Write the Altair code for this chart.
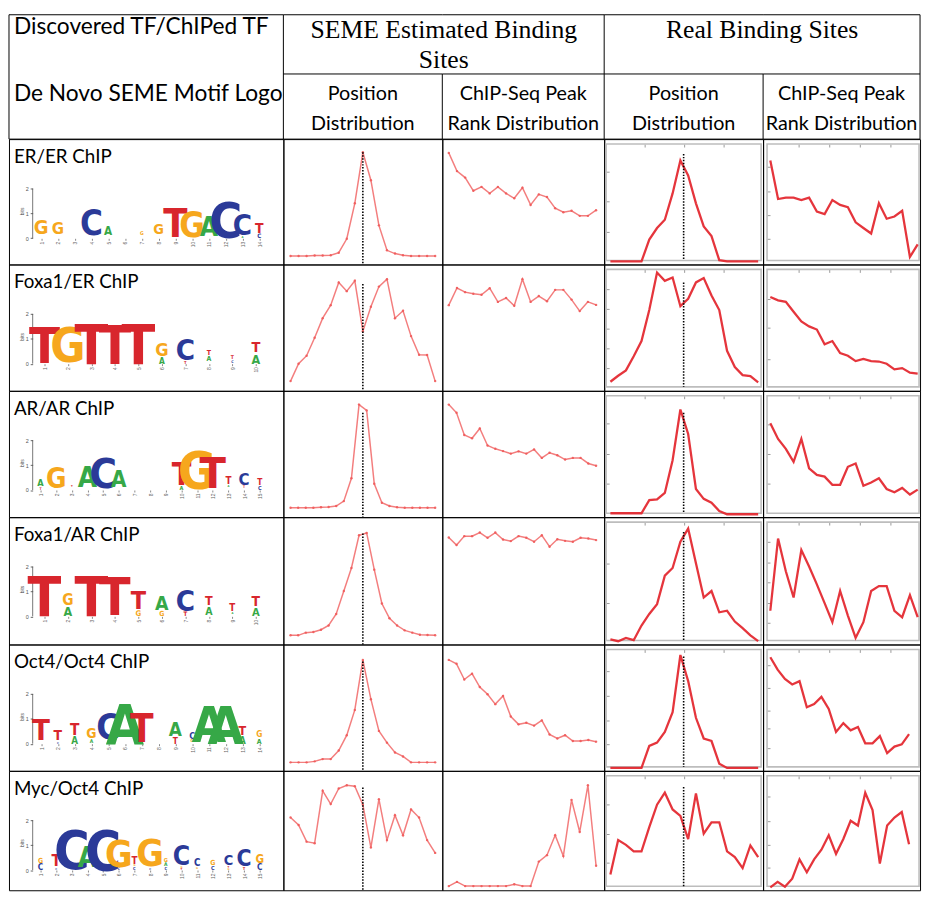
import altair as alt
import pandas as pd

# ---------------- texts ----------------
ROW_LABELS = ["ER/ER ChIP", "Foxa1/ER ChIP", "AR/AR ChIP",
              "Foxa1/AR ChIP", "Oct4/Oct4 ChIP", "Myc/Oct4 ChIP"]
HEAD_LEFT = ["Discovered TF/ChIPed TF", "De Novo SEME Motif Logo"]
HEAD_SEME = ["SEME Estimated Binding", "Sites"]
HEAD_REAL = ["Real Binding Sites"]
SUB_POS = ["Position", "Distribution"]
SUB_RANK = ["ChIP-Seq Peak", "Rank Distribution"]

LETTERS = ["A", "C", "G", "T"]
LETTER_COLORS = ["#36a847", "#2b3a98", "#f6a71d", "#d8262d"]

# ---------------- motif logos (bits, stacked bottom -> top) ----------------
LOGO_ER = [
    [("T", .08), ("A", .06), ("C", .05), ("G", .72)],
    [("A", .05), ("C", .05), ("T", .06), ("G", .60)],
    [("C", .04), ("G", .05), ("T", .07)],
    [("G", .05), ("T", .07), ("C", 1.25)],
    [("G", .08), ("T", .07), ("A", .42)],
    [("G", .04), ("C", .06)],
    [("A", .05), ("T", .07), ("G", .18)],
    [("A", .04), ("T", .05), ("C", .07), ("G", .52)],
    [("G", .03), ("C", .04), ("T", 1.42)],
    [("A", .03), ("C", .04), ("G", 1.25)],
    [("G", .04), ("C", .05), ("A", .95)],
    [("C", 1.80)],
    [("G", .03), ("A", .10), ("C", 1.05)],
    [("C", .22), ("T", .50)],
]
LOGO_FOXA1_ER = [
    [("A", .04), ("T", 1.82)],
    [("A", .05), ("G", 1.72)],
    [("T", 1.98)],
    [("T", 1.90)],
    [("T", 1.98)],
    [("A", .30), ("G", .65)],
    [("T", .15), ("C", 1.05)],
    [("C", .05), ("G", .05), ("A", .25), ("T", .25)],
    [("G", .04), ("C", .13), ("T", .18)],
    [("A", .45), ("T", .52)],
]
LOGO_AR = [
    [("T", .12), ("G", .05), ("A", .33)],
    [("T", .05), ("A", .05), ("G", 1.00)],
    [("A", .05), ("G", .06), ("T", .10)],
    [("T", .05), ("G", .07), ("A", 1.00)],
    [("A", .05), ("G", .05), ("C", 1.50)],
    [("T", .08), ("C", .05), ("A", .80)],
    [],
    [("G", .04), ("A", .05)],
    [],
    [("A", .20), ("T", 1.15)],
    [("A", .05), ("G", 1.88)],
    [("A", .08), ("T", 1.55)],
    [("C", .05), ("G", .08), ("A", .10), ("T", .35)],
    [("A", .05), ("G", .05), ("T", .12), ("C", .60)],
    [("C", .20), ("T", .30)],
]
LOGO_FOXA1_AR = [
    [("T", 1.98)],
    [("A", .45), ("G", .55)],
    [("T", 1.98)],
    [("G", .05), ("T", 1.85)],
    [("G", .28), ("T", .90)],
    [("G", .25), ("A", .70)],
    [("T", .22), ("C", 1.05)],
    [("C", .06), ("A", .38), ("T", .45)],
    [("C", .05), ("G", .05), ("A", .10), ("T", .35)],
    [("A", .40), ("T", .50)],
]
LOGO_OCT4 = [
    [("C", .06), ("A", .08), ("T", 1.05)],
    [("C", .10), ("A", .05), ("T", .50)],
    [("A", .35), ("T", .55)],
    [("C", .04), ("A", .18), ("G", .50)],
    [("A", .18), ("C", 1.30)],
    [("A", 1.98)],
    [("A", .06), ("T", 1.38)],
    [("G", .03), ("A", .05)],
    [("T", .30), ("A", .68)],
    [("A", .05), ("G", .15), ("C", .32)],
    [("C", .05), ("A", 1.78)],
    [("A", 1.88)],
    [("A", .35), ("T", .45)],
    [("A", .25), ("G", .30)],
]
LOGO_MYC = [
    [("C", .30), ("G", .25)],
    [("C", .10), ("G", .05), ("T", .55)],
    [("G", .04), ("C", 1.95)],
    [("C", .08), ("G", .05), ("A", 1.00)],
    [("C", 1.98)],
    [("C", .12), ("G", 1.35)],
    [("C", .15), ("G", .10), ("T", .35)],
    [("C", .10), ("A", .05), ("G", 1.35)],
    [("C", .15), ("A", .18), ("G", .20)],
    [("T", .10), ("G", .10), ("C", .95)],
    [("T", .05), ("G", .10), ("C", .35)],
    [("C", .20), ("G", .25)],
    [("G", .10), ("T", .10), ("C", .52)],
    [("T", .15), ("C", .82)],
    [("C", .30), ("G", .42)],
]
LOGOS = [LOGO_ER, LOGO_FOXA1_ER, LOGO_AR, LOGO_FOXA1_AR, LOGO_OCT4, LOGO_MYC]

# ---------------- distributions (relative height, 0-100) ----------------
SEME_POS = [
    [6.8, 6.8, 6.8, 7.1, 7.1, 7.3, 9.4, 20.5, 48.8, 89.5, 67.2, 31.2, 11.3, 8.7, 7.3, 6.8, 6.8, 6.8, 6.8],
    [7.7, 21.4, 27.8, 42.0, 57.5, 67.8, 85.8, 78.9, 87.1, 47.2, 66.5, 82.5, 88.4, 57.5, 63.4, 43.3, 28.6, 28.4, 7.7],
    [7.5, 7.5, 7.5, 7.5, 7.8, 8.0, 8.8, 12.7, 30.8, 89.1, 84.5, 26.4, 11.4, 8.8, 7.8, 7.5, 7.5, 7.5, 7.5, 7.5],
    [7.2, 7.2, 9.3, 9.8, 11.6, 14.9, 24.0, 42.0, 60.1, 85.8, 87.6, 58.8, 32.2, 20.6, 14.9, 11.1, 9.3, 7.7, 7.5, 7.2],
    [6.7, 6.7, 6.7, 7.5, 9.3, 9.3, 16.1, 28.2, 48.2, 87.8, 56.7, 31.6, 22.3, 14.5, 11.4, 6.7, 6.7, 6.7, 6.7],
    [60.9, 54.7, 40.7, 39.4, 83.3, 72.2, 85.2, 87.9, 87.1, 71.7, 35.8, 76.3, 42.0, 62.8, 46.1, 67.7, 60.9, 42.0, 31.3],
]
SEME_POS_TOP = [89.5, 84.5, 82.6, 87.1, 86.5, 86.0]

SEME_RANK = [
    [89.0, 74.5, 69.3, 58.8, 61.9, 56.7, 61.9, 56.7, 52.8, 61.2, 47.5, 55.9, 53.8, 44.9, 41.7, 42.8, 38.8, 38.8, 43.3],
    [67.8, 81.4, 78.1, 76.8, 76.0, 81.2, 70.4, 73.5, 67.3, 88.4, 70.4, 75.0, 70.9, 79.9, 79.9, 72.2, 63.1, 70.4, 68.0],
    [89.1, 82.6, 65.0, 62.4, 70.2, 56.7, 54.1, 52.3, 50.3, 52.1, 50.3, 53.6, 46.9, 51.0, 49.0, 45.6, 46.9, 46.9, 42.5, 40.7],
    [84.0, 78.1, 85.1, 85.1, 87.9, 83.8, 87.9, 82.5, 81.2, 85.1, 83.8, 80.7, 85.8, 76.8, 82.7, 81.4, 80.7, 83.8, 83.2, 82.0],
    [87.8, 84.7, 72.3, 76.9, 66.3, 60.6, 52.8, 59.3, 43.0, 36.8, 38.1, 35.8, 39.9, 28.8, 25.6, 28.2, 23.6, 23.6, 24.4, 23.1],
    [3.5, 7.0, 3.5, 3.5, 3.5, 3.5, 3.5, 3.5, 5.1, 3.5, 3.5, 24.0, 29.4, 46.1, 28.6, 75.7, 48.8, 87.9, 20.5],
]

REAL_POS = [
    [2.4, 2.4, 2.4, 2.4, 2.4, 19.9, 29.1, 35.7, 56.7, 82.9, 71.1, 48.8, 30.4, 22.6, 3.4, 2.4, 2.4, 2.4, 2.4, 2.4],
    [7.2, 11.9, 16.2, 27.3, 39.4, 63.9, 93.6, 87.1, 89.7, 67.0, 72.9, 85.8, 89.2, 75.5, 63.9, 31.7, 18.8, 12.4, 11.6, 6.7],
    [3.1, 3.1, 3.1, 3.1, 3.1, 13.5, 14.0, 19.2, 45.1, 85.2, 65.8, 22.3, 14.5, 11.4, 4.9, 2.3, 2.3, 2.3, 2.3, 2.3],
    [4.1, 2.6, 5.2, 3.4, 14.9, 24.0, 31.7, 54.1, 60.1, 80.7, 91.0, 63.9, 36.9, 42.0, 25.3, 26.5, 18.0, 12.9, 7.2, 2.6],
    [2.3, 2.3, 2.3, 2.3, 2.3, 19.7, 22.3, 30.8, 46.4, 91.7, 71.0, 42.0, 25.6, 23.6, 5.7, 2.3, 2.3, 2.3, 2.3, 2.3],
    [13.2, 42.0, 38.0, 32.6, 32.6, 52.8, 71.7, 81.7, 67.7, 62.3, 42.9, 81.1, 47.4, 56.9, 56.9, 32.6, 27.8, 18.6, 37.5, 27.8],
]
REAL_POS_TOP = [88.2, 85.8, 82.6, 88.4, 90.4, 86.5]

REAL_RANK = [
    [82.9, 52.2, 53.3, 53.3, 51.4, 53.3, 42.3, 40.2, 51.4, 47.5, 45.7, 33.6, 29.1, 24.7, 48.8, 36.5, 38.3, 42.8, 6.0, 16.0],
    [74.2, 71.6, 70.4, 62.6, 54.9, 51.0, 48.5, 36.9, 39.4, 29.9, 27.8, 23.5, 25.3, 23.5, 23.2, 21.4, 17.0, 18.0, 14.4, 13.7],
    [74.4, 61.9, 54.1, 43.8, 61.9, 38.6, 33.4, 32.1, 25.6, 25.6, 39.9, 42.5, 24.9, 27.5, 30.8, 22.3, 19.7, 23.1, 17.9, 21.8],
    [26.5, 83.2, 57.5, 36.9, 74.2, 61.3, 47.2, 32.5, 17.5, 42.0, 22.7, 5.2, 17.5, 42.0, 45.9, 45.9, 26.5, 21.4, 38.7, 21.4],
    [89.9, 80.1, 72.8, 68.4, 71.0, 50.3, 52.8, 58.5, 49.0, 30.8, 37.8, 32.1, 34.7, 21.8, 21.8, 27.5, 14.0, 19.2, 21.0, 29.0],
    [2.4, 7.0, 3.0, 9.7, 25.9, 15.1, 25.9, 34.0, 46.1, 30.5, 42.9, 58.2, 54.2, 81.7, 67.1, 22.4, 54.2, 60.9, 65.5, 38.5],
]

# frame tick marks of the "real" panels (relative positions)
REAL_POS_XTICKS = [0.253, 0.5, 0.753]
REAL_RANK_XTICKS = [0.225, 0.42, 0.615, 0.81]
REAL_POS_YTICKS = [[73.8, 50.1, 25.7], [80.7, 65.2, 49.2, 33.8, 18.0], [74.1, 50.3, 26.4],
                   [63.9, 32.5], [78.8, 59.3, 39.9, 21.0], [71.7, 47.4, 23.2]]
REAL_RANK_YTICKS = [[77.7, 58.5, 39.6, 20.7], [72.9, 49.7, 25.3], [73.6, 50.3, 26.4],
                    [80.7, 64.4, 48.5, 32.5, 17.0], [83.9, 65.8, 47.7, 33.4, 17.9], [78.4, 58.2, 38.0, 19.1]]

# ---------------- layout / style ----------------
COL_W = [278, 161, 164, 161, 159]
HEAD_H = [60, 66]
ROW_H = [127, 128, 128, 129, 128, 121]

FONT_SANS = "Lato"
FONT_SERIF = "Liberation Serif"
LOGO_FONT = "Liberation Sans Narrow, DejaVu Sans Condensed, Liberation Sans"
PX_PER_BIT = 25.2
CAP_HEIGHT = 0.716
LETTER_SCALE = 0.8
MIN_BITS_SHOWN = 0.1
LOGO_BASE_Y = 100.5
LOGO_AXIS_X = 24
LOGO_SPAN = 238

SEME_COLOR = "#f05a5a"
REAL_COLOR = "#e3242b"
FRAME_COLOR = "#bdbdbd"

X_SPAN = {"seme_pos": (0.045, 0.955), "seme_rank": (0.04, 0.95),
          "real_pos": (0.039, 0.969), "real_rank": (0.046, 0.985)}
REAL_RANK_END = [0.985, 0.985, 0.985, 0.985, 0.93, 0.93]


def rule(x1, y1, x2, y2):
    return (alt.Chart(pd.DataFrame({"a": [0]}))
            .mark_rule(color="black", strokeWidth=1)
            .encode(x=alt.value(x1), y=alt.value(y1), x2=alt.value(x2), y2=alt.value(y2)))


def text(txt, x, y, align, font, size):
    return (alt.Chart(pd.DataFrame({"t": [txt]}))
            .mark_text(align=align, baseline="middle", font=font, fontSize=size, color="black")
            .encode(x=alt.value(x), y=alt.value(y), text="t:N"))


def header_cell(w, texts, left=False, mid=True, right_full=True):
    H = HEAD_H[0] + HEAD_H[1]
    layers = [rule(0, 0, w, 0), rule(0, H, w, H)]
    if left:
        layers.append(rule(0, 0, 0, H))
    if mid:
        layers.append(rule(0, HEAD_H[0], w, HEAD_H[0]))
    if right_full:
        layers.append(rule(w, 0, w, H))
    else:
        layers.append(rule(w, HEAD_H[0], w, H))
    layers += [text(*t) for t in texts]
    return alt.layer(*layers).properties(width=w, height=H, view=alt.ViewBackground(strokeOpacity=0))


def logo_cell(label, logo, w, h):
    rows = []
    for p, col in enumerate(logo, start=1):
        for k, (letter, bits) in enumerate(col):
            rows.append({"pos": p, "letter": letter, "bits": bits, "order": k})
    df = pd.DataFrame(rows)
    n = len(logo)
    step = LOGO_SPAN / n
    xs = alt.Scale(domain=[0.5 - LOGO_AXIS_X / step, 0.5 + (w - LOGO_AXIS_X) / step], nice=False, zero=False)
    ys = alt.Scale(domain=[-(h - LOGO_BASE_Y) / PX_PER_BIT, LOGO_BASE_Y / PX_PER_BIT], nice=False, zero=False)
    xaxis = alt.Axis(values=list(range(1, n + 1)), labelAngle=270, labelFontSize=5, labelColor="#666",
                     tickSize=2, tickColor="#888", domain=False, grid=False, title=None,
                     offset=-(h - LOGO_BASE_Y), labelPadding=1)
    yaxis = alt.Axis(values=[0, 1, 2], labelFontSize=5.5, labelColor="#555", tickSize=2.5,
                     tickColor="#666", domain=False, grid=False, title="bits", titleFontSize=5,
                     titleFontWeight="normal", titleColor="#555", titlePadding=1,
                     titleY=LOGO_BASE_Y - 1.1 * PX_PER_BIT, offset=-LOGO_AXIS_X)
    fs = LETTER_SCALE * PX_PER_BIT / CAP_HEIGHT
    letters = (
        alt.Chart(df)
        .transform_stack(stack="bits", groupby=["pos"], as_=["y0", "y1"],
                         sort=[alt.SortField(field="order", order="ascending")])
        .transform_filter(alt.datum.bits >= MIN_BITS_SHOWN)
        .mark_text(baseline="alphabetic", align="center", font=LOGO_FONT, fontWeight="bold")
        .encode(
            x=alt.X("pos:Q", scale=xs, axis=xaxis),
            y=alt.Y("y0:Q", scale=ys, axis=yaxis),
            size=alt.Size("bits:Q", scale=alt.Scale(domain=[0, 2], range=[0, 2 * fs]), legend=None),
            color=alt.Color("letter:N", scale=alt.Scale(domain=LETTERS, range=LETTER_COLORS), legend=None),
            text="letter:N",
        )
    )
    axis_line = (
        alt.Chart(pd.DataFrame({"x": [0.5], "a": [0], "b": [2]}))
        .mark_rule(color="#555", strokeWidth=0.8)
        .encode(x=alt.X("x:Q", scale=xs, axis=xaxis), y=alt.Y("a:Q", scale=ys, axis=yaxis), y2="b:Q")
    )
    title = text(label, 5, 18, "left", FONT_SANS, 19)
    return alt.layer(axis_line, letters, title).properties(width=w, height=h)


def line_cell(values, w, h, start, end, real, top=None, xticks=None, yticks=None, rank=False):
    n = len(values)
    step = (end - start) / (n - 1)
    xs = alt.Scale(domain=[-start / step, (1 - start) / step], nice=False, zero=False)
    ys = alt.Scale(domain=[0, 100], nice=False, zero=False)
    layers = []
    if real:
        fx0, fy0 = (4, 5) if rank else (2, 5)
        fx1 = w - 1 if rank else w - 2
        xaxis = alt.Axis(orient="top", values=[(f - start) / step for f in xticks], offset=-(fy0 + 3),
                         tickSize=3, labels=False, domain=False, grid=False, title=None,
                         tickColor="#999", tickWidth=1)
        yaxis = alt.Axis(orient="left", values=yticks, offset=-(fx0 + 3), tickSize=3, labels=False,
                         domain=False, grid=False, title=None, tickColor="#999", tickWidth=1)
        layers.append(
            alt.Chart(pd.DataFrame({"a": [0]}))
            .mark_rect(fillOpacity=0, stroke=FRAME_COLOR, strokeWidth=1.6)
            .encode(x=alt.value(fx0), x2=alt.value(fx1), y=alt.value(fy0), y2=alt.value(h - 4))
        )
        line = alt.Chart(pd.DataFrame({"i": list(range(n)), "v": values})).mark_line(
            color=REAL_COLOR, strokeWidth=2.3, opacity=0.92)
        bottom = 100 * 4 / h
    else:
        xaxis = None
        yaxis = None
        line = alt.Chart(pd.DataFrame({"i": list(range(n)), "v": values})).mark_line(
            color=SEME_COLOR, strokeWidth=1.5, opacity=0.78,
            point=alt.OverlayMarkDef(filled=True, size=6, color=SEME_COLOR, opacity=0.9))
        bottom = 0
    layers.append(line.encode(x=alt.X("i:Q", scale=xs, axis=xaxis), y=alt.Y("v:Q", scale=ys, axis=yaxis)))
    if top is not None:
        c = (0.5 - start) / step
        layers.append(
            alt.Chart(pd.DataFrame({"c": [c], "t": [top], "b": [bottom]}))
            .mark_rule(color="black", strokeDash=[1.5, 1.5], strokeWidth=1.6)
            .encode(x=alt.X("c:Q", scale=xs, axis=xaxis), y=alt.Y("t:Q", scale=ys, axis=yaxis), y2="b:Q")
        )
    return alt.layer(*layers).properties(width=w, height=h)


# ---------------- header cells ----------------
seme_cx = (COL_W[1] + COL_W[2]) / 2
real_cx = (COL_W[3] + COL_W[4]) / 2
sub1 = HEAD_H[0] + 20
sub2 = HEAD_H[0] + 51
cells = [
    header_cell(COL_W[0], [(HEAD_LEFT[0], 5, 13, "left", FONT_SANS, 23),
                           (HEAD_LEFT[1], 5, 80, "left", FONT_SANS, 23)],
                left=True, mid=False, right_full=True),
    header_cell(COL_W[1], [(HEAD_SEME[0], seme_cx, 16, "center", FONT_SERIF, 26),
                           (HEAD_SEME[1], seme_cx, 46, "center", FONT_SERIF, 26),
                           (SUB_POS[0], COL_W[1] / 2, sub1, "center", FONT_SANS, 20),
                           (SUB_POS[1], COL_W[1] / 2, sub2, "center", FONT_SANS, 20)],
                right_full=False),
    header_cell(COL_W[2], [(SUB_RANK[0], COL_W[2] / 2, sub1, "center", FONT_SANS, 20),
                           (SUB_RANK[1], COL_W[2] / 2, sub2, "center", FONT_SANS, 20)],
                right_full=True),
    header_cell(COL_W[3], [(HEAD_REAL[0], real_cx, 16, "center", FONT_SERIF, 26),
                           (SUB_POS[0], COL_W[3] / 2, sub1, "center", FONT_SANS, 20),
                           (SUB_POS[1], COL_W[3] / 2, sub2, "center", FONT_SANS, 20)],
                right_full=False),
    header_cell(COL_W[4], [(SUB_RANK[0], COL_W[4] / 2, sub1, "center", FONT_SANS, 20),
                           (SUB_RANK[1], COL_W[4] / 2, sub2, "center", FONT_SANS, 20)],
                right_full=True),
]

# ---------------- data rows ----------------
for r in range(6):
    h = ROW_H[r]
    cells += [
        logo_cell(ROW_LABELS[r], LOGOS[r], COL_W[0], h),
        line_cell(SEME_POS[r], COL_W[1], h, *X_SPAN["seme_pos"], real=False, top=SEME_POS_TOP[r]),
        line_cell(SEME_RANK[r], COL_W[2], h, *X_SPAN["seme_rank"], real=False),
        line_cell(REAL_POS[r], COL_W[3], h, *X_SPAN["real_pos"], real=True, top=REAL_POS_TOP[r],
                  xticks=REAL_POS_XTICKS, yticks=REAL_POS_YTICKS[r]),
        line_cell(REAL_RANK[r], COL_W[4], h, X_SPAN["real_rank"][0], REAL_RANK_END[r], real=True,
                  xticks=REAL_RANK_XTICKS, yticks=REAL_RANK_YTICKS[r], rank=True),
    ]

chart = (
    alt.concat(*cells, columns=5, spacing=0, bounds="flush")
    .properties(padding=0)
    .configure_view(stroke="black", strokeWidth=1)
    .configure_concat(spacing=0)
)

chart.save("out.html", embed_options={"renderer": "svg", "actions": False})
